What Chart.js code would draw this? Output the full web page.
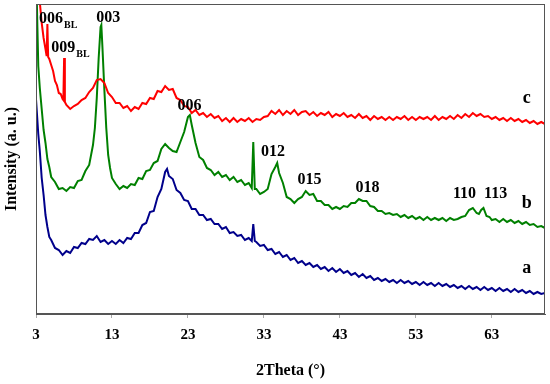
<!DOCTYPE html>
<html>
<head>
<meta charset="utf-8">
<script src="https://cdn.jsdelivr.net/npm/chart.js@4"></script>
<style>
  body { margin: 0; background: #fff; }
  #wrap { width: 550px; height: 384px; }
</style>
</head>
<body>
<div id="wrap"><canvas id="xrdChart"></canvas></div>
<script>
// 2Theta (deg) / intensity (a.u.)
const angleC = [3.3,3.5,3.75,4,4.25,4.4,4.5,4.6,4.75,5,5.25,5.5,5.75,6,6.25,6.5,6.6,6.7,6.8,7,7.5,8,8.5,9,9.5,10,10.5,11,11.5,12,12.5,13,13.5,14,14.5,15,15.5,16,16.5,17,17.5,18,18.5,19,19.5,20,20.5,21,21.5,22,22.5,23,23.5,24,24.5,25,25.5,26,26.5,27,27.5,28,28.5,29,29.5,30,30.5,31,31.5,32,32.5,33,33.5,34,34.5,35,35.5,36,36.5,37,37.5,38,38.5,39,39.5,40,40.5,41,41.5,42,42.5,43,43.5,44,44.5,45,45.5,46,46.5,47,47.5,48,48.5,49,49.5,50,50.5,51,51.5,52,52.5,53,53.5,54,54.5,55,55.5,56,56.5,57,57.5,58,58.5,59,59.5,60,60.5,61,61.5,62,62.5,63,63.5,64,64.5,65,65.5,66,66.5,67,67.5,68,68.5,69,69.5,70];
const intensityC = [345,312,291,276,265,258,290,257,255,249,243,233,229,221,220,215,214,256,212,209,205,208,210,214,216,222,226,234,235,231,221,217,211,211,206,208,203,207,205,211,210,216,215,223,222,228,224,225,216,214,208,207,201,204,199,201,197,200,196,198,193,196,192,196,192,195,193,196,192,195,194,197,198,203,200,204,199,203,200,204,199,202,203,199,202,198,201,199,202,197,200,198,201,197,199,196,200,196,198,194,198,195,197,194,197,194,197,195,198,194,197,194,197,195,197,194,198,194,197,195,198,195,199,196,200,197,201,198,200,197,198,195,197,194,196,193,196,193,195,192,194,191,193,190,192,190];

const angleB = [3,3.1,3.3,3.5,3.75,4,4.25,4.5,4.75,5,5.5,6,6.5,7,7.5,8,8.5,9,9.5,10,10.5,10.75,11,11.25,11.5,11.6,11.75,12,12.25,12.5,12.75,13,13.5,14,14.5,15,15.5,16,16.5,17,17.5,18,18.5,19,19.5,20,20.5,21,21.5,22,22.5,23,23.25,23.5,24,24.5,25,25.5,26,26.5,27,27.5,28,28.5,29,29.5,30,30.5,31,31.4,31.6,31.8,32,32.5,33,33.5,34,34.5,34.75,35,35.5,36,36.5,37,37.5,38,38.5,39,39.5,40,40.5,41,41.5,42,42.5,43,43.5,44,44.5,45,45.5,46,46.5,47,47.5,48,48.5,49,49.5,50,50.5,51,51.5,52,52.5,53,53.5,54,54.5,55,55.5,56,56.5,57,57.5,58,58.5,59,59.5,60,60.5,61,61.3,61.6,61.9,62.3,62.7,63,63.5,64,64.5,65,65.5,66,66.5,67,67.5,68,68.5,69,69.5,70];
const intensityB = [345,315,248,226,205,184,171,155,147,137,132,125,126,123,127,126,133,134,143,149,169,186,216,256,287,289,266,224,186,159,146,136,130,125,128,126,130,129,136,135,143,144,151,153,165,170,166,163,162,172,182,197,199,189,171,157,154,146,144,139,142,137,139,134,137,132,134,129,131,126,172,125,125,120,122,125,140,147,151,141,131,117,115,111,115,117,123,119,120,113,113,109,109,105,107,105,108,107,111,111,115,113,113,108,107,103,103,100,101,99,100,97,99,96,98,95,97,94,97,94,96,94,96,93,96,94,95,97,98,104,106,101,100,104,106,98,97,94,95,92,95,92,94,91,93,90,92,89,90,87,88,86];

const angleA = [3,3.3,3.5,3.75,4,4.25,4.5,4.75,5,5.5,6,6.5,7,7.5,8,8.5,9,9.5,10,10.5,11,11.5,12,12.5,13,13.5,14,14.5,15,15.5,16,16.5,17,17.5,18,18.5,19,19.5,20,20.25,20.5,21,21.5,22,22.5,23,23.5,24,24.5,25,25.5,26,26.5,27,27.5,28,28.5,29,29.5,30,30.5,31,31.4,31.6,31.8,32,32.5,33,33.5,34,34.5,35,35.5,36,36.5,37,37.5,38,38.5,39,39.5,40,40.5,41,41.5,42,42.5,43,43.5,44,44.5,45,45.5,46,46.5,47,47.5,48,48.5,49,49.5,50,50.5,51,51.5,52,52.5,53,53.5,54,54.5,55,55.5,56,56.5,57,57.5,58,58.5,59,59.5,60,60.5,61,61.5,62,62.5,63,63.5,64,64.5,65,65.5,66,66.5,67,67.5,68,68.5,69,69.5,70];
const intensityA = [215,180,163,136,119,99,87,77,74,66,64,59,63,61,67,66,71,70,75,74,78,72,74,70,73,70,74,71,76,75,81,81,89,91,102,103,117,125,142,145,138,135,124,121,114,113,105,105,99,99,94,95,90,90,85,87,81,82,78,79,74,76,73,90,73,72,68,69,64,65,60,62,57,59,54,56,51,53,49,51,47,49,45,47,43,46,42,45,41,43,39,41,37,40,36,38,34,36,33,35,32,34,31,34,31,33,30,32,29,32,29,31,28,31,28,30,27,29,26,28,25,28,25,27,24,27,24,26,23,26,23,25,22,25,22,24,21,23,20,22,20,21];

const xTicks = [3, 13, 23, 33, 43, 53, 63];

// peak / curve labels
const labelText = ['006', '009', '003', '006', '012', '015', '018', '110', '113', 'c', 'b', 'a'];
const labelSub = ['BL', 'BL', '', '', '', '', '', '', '', '', '', ''];
const labelAngle = [4.97, 6.6, 12.5, 23.2, 34.2, 39.0, 46.65, 59.4, 63.5, 67.6, 67.6, 67.6];
const labelIntensity = [295, 266, 296, 208, 162, 134, 126, 120, 120, 216, 111, 46];

const SERIF = '"Liberation Serif", "Times New Roman", serif';

function toPoints(xs, ys) {
    return xs.map((x, i) => ({ x: x, y: ys[i] }));
}

const labelsPlugin = {
    id: 'peakLabels',
    afterDatasetsDraw(chart) {
        const ctx = chart.ctx;
        const area = chart.chartArea;
        const sx = chart.scales.x, sy = chart.scales.y;
        ctx.save();
        // frame round the plot
        ctx.strokeStyle = '#555';
        ctx.lineWidth = 1;
        ctx.strokeRect(area.left + 0.5, area.top + 0.5, area.right - area.left - 1, area.bottom - area.top - 1);

        ctx.fillStyle = '#000';
        ctx.textBaseline = 'middle';
        labelText.forEach((t, i) => {
            const px = sx.getPixelForValue(labelAngle[i]);
            const py = sy.getPixelForValue(labelIntensity[i]);
            const big = t.length === 1;
            ctx.font = 'bold ' + (big ? 18 : 16) + 'px ' + SERIF;
            ctx.textAlign = 'center';
            ctx.fillText(t, px, py);
            if (labelSub[i]) {
                const w = ctx.measureText(t).width;
                ctx.font = 'bold 10px ' + SERIF;
                ctx.textAlign = 'left';
                ctx.fillText(labelSub[i], px + w / 2 + 1, py + 6);
            }
        });
        ctx.restore();
    }
};

const ctx = document.getElementById('xrdChart').getContext('2d');

new Chart(ctx, {
    type: 'line',
    data: {
        datasets: [
            { label: 'c', data: toPoints(angleC, intensityC), borderColor: '#ff0000' },
            { label: 'b', data: toPoints(angleB, intensityB), borderColor: '#008000' },
            { label: 'a', data: toPoints(angleA, intensityA), borderColor: '#00008b' }
        ]
    },
    options: {
        responsive: true,
        maintainAspectRatio: false,
        animation: false,
        layout: { padding: { top: 4, right: 5, left: 0, bottom: 0 } },
        elements: {
            line: { borderWidth: 2, tension: 0 },
            point: { radius: 0 }
        },
        plugins: {
            legend: { display: false },
            tooltip: { enabled: false }
        },
        scales: {
            x: {
                type: 'linear',
                min: 3,
                max: 70,
                afterBuildTicks: s => { s.ticks = xTicks.map(v => ({ value: v })); },
                afterFit: s => { s.height = 70; },
                grid: { drawOnChartArea: false, drawTicks: true, tickLength: 4, color: '#aaa' },
                border: { display: true, color: '#555' },
                ticks: {
                    color: '#000',
                    padding: 8,
                    maxRotation: 0,
                    font: { family: SERIF, size: 15, weight: 'bold' }
                },
                title: {
                    display: true,
                    text: '2Theta (°)',
                    color: '#000',
                    padding: { top: 0, bottom: 4 },
                    font: { family: SERIF, size: 16, weight: 'bold' }
                }
            },
            y: {
                min: 0,
                max: 310,
                afterFit: s => { s.width = 36; },
                grid: { display: false },
                border: { display: true, color: '#555' },
                ticks: { display: false },
                title: {
                    display: true,
                    text: 'Intensity (a. u.)',
                    color: '#000',
                    padding: { top: 2, bottom: 0 },
                    font: { family: SERIF, size: 16, weight: 'bold' }
                }
            }
        }
    },
    plugins: [labelsPlugin]
});
</script>
</body>
</html>
